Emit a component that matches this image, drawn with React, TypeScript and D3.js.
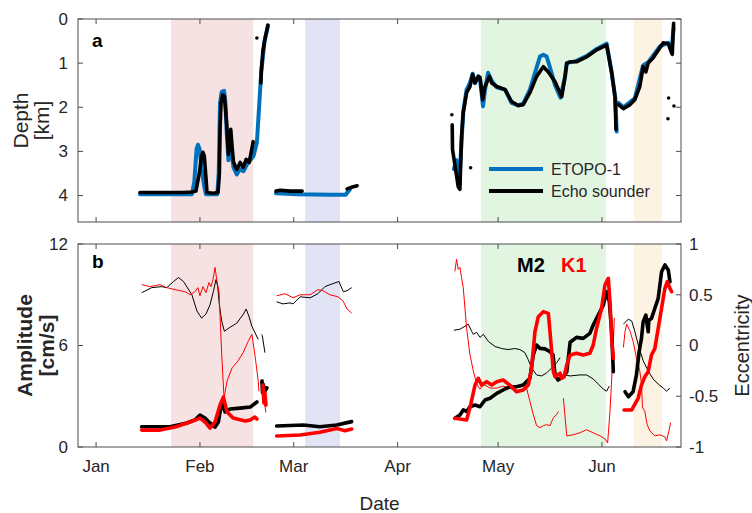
import React from "react";
import * as d3 from "d3";

type Pt = [number, number];

// days since Jan 1
const monthLabels = ["Jan", "Feb", "Mar", "Apr", "May", "Jun"];
const monthStarts = [0, 31, 59, 90, 120, 151];
const depthTicks = [0, 1, 2, 3, 4];
const ampTicks = [0, 6, 12];
const eccTicks = [-1, -0.5, 0, 0.5, 1];
const eccTickLabels = ["-1", "-0.5", "0", "0.5", "1"];

const shadeStart = [22.4, 62.4, 114.9, 160.5];
const shadeEnd = [46.9, 72.8, 152.2, 168.9];
const shadeColors = ["#f6e2e2", "#e3e3f6", "#e1f5e1", "#fdf3e4"];

// Panel a: depth (km)
const etopoDepth: Pt[][] = [
  [[13.1,3.97],[28.6,3.97],[29.3,3.7],[30.0,2.95],[30.4,2.85],[30.9,2.95],[31.5,3.4],[32.3,3.8],[32.8,3.97],[36.2,3.97],[36.6,3.5],[37.0,1.9],[37.5,1.65],[38.2,1.63],[38.6,1.9],[39.0,2.6],[39.5,3.2],[40.0,3.0],[40.3,2.9],[41.0,3.36],[42.0,3.52],[43.0,3.4],[44.0,3.45],[45.0,3.3],[46.0,3.2],[47.0,3.1],[48.0,2.8],[49.3,1.2],[50.3,0.5],[51.3,0.15]],
  [[53.7,3.95],[60,3.97],[70,3.98],[74.5,3.98],[75.8,3.86]],
  [[106.8,3.4],[107.6,3.2],[108.4,3.7],[109.0,2.9],[109.6,2.1],[110.6,1.6],[111.6,1.45],[112.4,1.24],[113.1,1.45],[114.1,1.3],[114.6,1.35],[115.5,1.98],[116.1,1.6],[117.0,1.22],[118.1,1.4],[119.6,1.55],[122.1,1.6],[124.0,1.9],[126.0,1.96],[127.5,1.92],[129.5,1.6],[131.5,1.1],[132.5,0.85],[133.5,0.81],[134.5,0.85],[135.5,1.1],[137.0,1.5],[138.6,1.78],[140.0,1.3],[140.5,1.0],[143.4,0.95],[146.4,0.84],[149.4,0.68],[152.4,0.56],[153.9,1.2],[155.0,1.8],[155.4,2.55]],
  [[155.9,1.9],[157.4,2.0],[160.8,1.8],[163.3,1.05],[164.8,0.98],[168.3,0.62],[170.8,0.54],[171.8,0.7],[172.4,0.2]],
];
const echoDepth: Pt[][] = [
  [[13.1,3.93],[20,3.93],[26,3.93],[28.6,3.92],[29.8,3.9],[30.8,3.5],[31.5,3.1],[31.9,3.02],[32.3,3.1],[32.8,3.6],[33.1,3.93],[35,3.95],[36.4,3.93],[36.8,3.5],[37.0,2.5],[37.3,1.9],[37.8,1.72],[38.3,1.75],[38.6,2.0],[39.0,2.4],[39.5,3.07],[40.0,2.8],[40.2,2.5],[40.5,2.8],[41.0,3.23],[41.6,3.35],[42.0,3.41],[43.0,3.25],[43.9,3.36],[44.8,3.18],[45.7,3.25],[46.6,2.9],[46.9,2.78]],
  [[49.2,1.45],[49.3,1.2],[49.5,1.0],[49.8,0.72],[50.4,0.45],[51.0,0.25],[51.3,0.14]],
  [[53.7,3.9],[55,3.88],[58,3.9],[61.5,3.9]],
  [[74.9,3.85],[76,3.82],[77.9,3.78]],
  [[106.3,2.4],[106.4,2.96],[107.0,3.25],[107.7,3.6],[108.1,3.8],[108.6,3.86],[109.1,2.66],[109.6,2.12],[110.6,1.67],[111.6,1.53],[112.4,1.26],[113.1,1.45],[114.1,1.3],[114.6,1.32],[115.4,1.83],[116.1,1.53],[117.4,1.3],[118.1,1.45],[119.6,1.53],[122.1,1.6],[124.0,1.87],[126.0,1.96],[127.5,1.94],[129.5,1.67],[131.5,1.3],[133.5,1.08],[135.0,1.2],[137.0,1.42],[139.0,1.76],[140.0,1.3],[140.5,1.0],[141.5,0.97],[143.4,0.97],[146.4,0.86],[149.4,0.7],[152.4,0.59],[153.9,1.22],[154.9,1.76],[155.2,2.5]],
  [[155.9,1.94],[157.4,2.03],[159.4,1.94],[160.8,1.83],[162.3,1.53],[163.3,1.08],[164.1,1.2],[164.8,1.0],[166.3,0.88],[168.3,0.65],[169.3,0.54],[170.8,0.56],[171.8,0.77],[172.0,0.8],[172.2,0.4],[172.4,0.1]],
];
const echoDots: Pt[] = [[48.0,0.43],[106.2,2.17],[111.8,3.37],[170.9,1.79],[172.5,1.97],[170.7,2.26]];

// Panel b: amplitudes (cm/s), thick lines
const m2Amp: Pt[][] = [
  [[13.6,1.2],[22.1,1.2],[27.1,1.42],[29.5,1.6],[31.0,1.89],[32.5,1.71],[34.0,1.42],[35.5,1.18],[36.5,1.48],[37.5,2.66],[38.5,2.07],[40.0,2.25],[43.0,2.3],[46.0,2.36],[48.0,2.66]],
  [[49.5,3.9],[49.7,3.2],[49.9,3.7],[50.4,3.3],[51.0,3.5]],
  [[53.9,1.24],[61.9,1.3],[66.8,1.2],[71.8,1.3],[76.3,1.5]],
  [[107.1,1.7],[108.6,1.89],[109.6,2.19],[110.6,2.1],[111.6,2.38],[113.1,2.48],[114.6,2.38],[116.1,2.78],[117.6,2.88],[119.6,3.17],[121.5,3.37],[123.5,3.56],[125.5,3.56],[127.5,3.66],[129.5,4.06],[130.5,5.44],[131.5,6.03],[132.5,5.83],[134.0,5.8],[135.5,5.63],[136.4,5.44],[137.0,4.26],[137.9,3.96],[139.5,4.15],[140.5,4.45],[141.5,6.19],[143.4,6.48],[145.4,6.42],[147.4,6.72],[148.4,7.21],[149.9,7.8],[151.4,8.39],[152.4,9.18],[153.2,8.6],[153.9,6.81],[154.4,4.45]],
  [[157.9,3.27],[158.9,2.97],[160.3,3.27],[161.3,4.26],[162.1,5.63],[162.8,6.42],[163.3,7.4],[164.1,7.8],[164.8,6.81],[165.0,7.5],[165.8,7.6],[166.8,8.2],[167.8,8.79],[168.3,9.57],[168.8,10.36],[169.8,10.76],[170.8,10.46],[171.3,9.77]],
];
const k1Amp: Pt[][] = [
  [[13.6,1.0],[19.1,1.0],[23.6,1.18],[28.1,1.48],[31.0,1.71],[32.5,1.48],[34.0,1.12],[35.5,1.48],[37.0,2.48],[38.0,2.95],[39.1,2.07],[40.9,1.71],[44.5,1.54],[46.0,1.6],[47.4,1.77],[48.0,1.65]],
  [[49.8,3.66],[50.1,2.6],[50.4,3.2],[50.7,2.48]],
  [[53.9,0.65],[60.9,0.71],[66.8,0.87],[71.8,1.1],[74.3,0.96],[76.3,1.06]],
  [[107.1,1.7],[110.6,1.6],[111.8,2.48],[113.1,3.66],[114.1,4.06],[115.1,3.66],[116.6,3.86],[118.1,3.66],[119.6,3.86],[121.5,3.96],[123.5,3.66],[125.5,3.27],[127.5,3.37],[129.0,3.66],[130.0,4.65],[131.0,6.81],[132.0,7.7],[133.5,8.0],[135.0,7.9],[135.5,6.81],[136.5,4.45],[137.0,4.15],[138.5,4.36],[139.0,4.06],[139.7,4.15],[140.5,4.85],[141.5,5.44],[143.4,5.54],[145.4,5.44],[147.4,5.54],[148.4,6.03],[149.4,7.02],[150.9,8.2],[151.9,9.57],[152.9,9.97],[153.4,8.59],[153.9,6.42],[154.4,5.24]],
  [[157.6,2.19],[159.9,2.19],[161.8,2.88],[162.8,3.66],[163.8,4.15],[164.8,4.45],[165.8,5.44],[166.8,5.83],[167.8,7.02],[168.8,8.2],[169.8,9.38],[170.5,9.77],[171.3,9.38],[171.8,9.18]],
];

// Panel b: eccentricity, thin lines
const m2Ecc: Pt[][] = [
  [[13.6,0.52],[16.6,0.57],[19.6,0.58],[21.1,0.57],[23.1,0.63],[24.6,0.67],[26.1,0.63],[28.6,0.5],[30.1,0.34],[31.5,0.27],[32.8,0.31],[34.0,0.4],[35.0,0.53],[35.8,0.65],[36.3,0.58],[36.8,0.4],[37.5,0.24],[38.3,0.14],[40.0,0.18],[42.0,0.22],[44.0,0.31],[44.8,0.36],[45.6,0.29],[46.5,0.19],[48.4,0.06]],
  [[49.4,0.11],[49.6,0.1],[50.4,-0.07]],
  [[53.9,0.43],[55.8,0.41],[57.9,0.42],[58.8,0.41],[60.9,0.48],[63.9,0.47],[66.2,0.51],[68.3,0.58],[70.7,0.61],[72.5,0.63],[73.8,0.53],[74.9,0.54],[76.3,0.57]],
  [[106.8,0.15],[108.6,0.16],[110.1,0.19],[111.1,0.21],[112.1,0.14],[112.6,0.11],[113.6,0.13],[114.6,0.08],[115.6,0.11],[117.1,0.04],[119.1,-0.01],[121.1,-0.03],[123.0,-0.04],[125.0,-0.03],[126.5,-0.04],[128.0,-0.07],[129.0,-0.14],[130.0,-0.22],[131.5,-0.29],[133.0,-0.3],[134.5,-0.27],[136.0,-0.22],[137.5,-0.17],[138.5,-0.12]],
  [[140.0,-0.29],[141.5,-0.3],[144.4,-0.29],[146.4,-0.29],[148.4,-0.33],[149.9,-0.38],[151.4,-0.43],[152.4,-0.45],[153.2,-0.4]],
  [[157.4,0.21],[158.9,0.26],[159.9,0.24],[160.8,0.14],[161.8,0.01],[163.3,-0.15],[164.8,-0.25],[166.3,-0.33],[167.8,-0.38],[169.3,-0.42],[170.3,-0.45],[171.3,-0.42]],
];
const k1Ecc: Pt[][] = [
  [[13.6,0.6],[16.1,0.58],[19.1,0.6],[21.1,0.57],[23.6,0.55],[26.6,0.53],[28.1,0.5],[29.5,0.53],[30.4,0.57],[31.0,0.49],[31.9,0.58],[32.8,0.52],[33.7,0.62],[34.3,0.58],[34.9,0.65],[35.5,0.77],[36.1,0.63],[36.7,0.53],[37.5,-0.09],[38.2,-0.52],[39.1,-0.35],[40.6,-0.22],[42.4,-0.15],[43.9,-0.07],[45.4,0.04],[46.5,0.11],[47.4,-0.09],[48.4,-0.35],[48.6,-0.45]],
  [[49.8,-0.33],[50.1,-0.5],[50.4,-0.6],[50.7,-0.66]],
  [[53.9,0.49],[56.4,0.51],[58.8,0.47],[60.9,0.5],[63.9,0.5],[66.2,0.55],[67.7,0.54],[69.8,0.5],[72.2,0.48],[73.7,0.44],[74.9,0.36],[76.3,0.32]],
  [[107.1,0.73],[107.6,0.85],[108.1,0.75],[108.6,0.77],[109.1,0.67],[109.6,0.57],[110.6,0.17],[111.6,-0.09],[112.6,-0.25],[113.6,-0.38],[114.6,-0.43],[115.6,-0.38],[117.6,-0.42],[119.6,-0.42],[121.5,-0.4],[123.5,-0.42],[125.5,-0.45],[127.5,-0.45],[128.5,-0.42],[129.5,-0.55],[130.5,-0.68],[131.5,-0.79],[132.5,-0.81],[133.5,-0.79],[134.5,-0.78],[135.5,-0.79],[136.5,-0.71],[137.5,-0.68],[138.0,-0.65]],
  [[139.5,-0.52],[140.5,-0.89],[142.4,-0.88],[144.4,-0.86],[146.4,-0.83],[148.4,-0.86],[150.4,-0.89],[151.9,-0.92],[152.7,-0.96],[153.4,-0.65],[154.2,-0.15],[154.7,0.27]],
  [[157.4,-0.02],[157.9,0.14],[158.4,0.21],[159.4,0.14],[160.3,0.04],[161.3,-0.12],[162.3,-0.25],[162.8,-0.38],[163.1,-0.61],[163.8,-0.65],[164.5,-0.78],[165.3,-0.84],[166.8,-0.89],[168.3,-0.88],[169.8,-0.9],[170.3,-0.94],[171.0,-0.84],[171.5,-0.76]],
];

const FONT = "'Liberation Sans', Arial, Helvetica, sans-serif";
const AXIS = "#4d4d4d";
const TXT = "#262626";
const BLUE = "#0072bd";
const RED = "#ff0000";

export default function App() {
  const W = 752, H = 513;
  const L = 78, R = 681;
  const aTop = 19, aBot = 222, bTop = 244, bBot = 447;
  const x = d3.scaleLinear().domain([-5.4, 174.6]).range([L, R]);
  const yD = d3.scaleLinear().domain([0, 4.6]).range([aTop, aBot]);
  const yA = d3.scaleLinear().domain([0, 12]).range([bBot, bTop]);
  const yE = d3.scaleLinear().domain([-1, 1]).range([bBot, bTop]);

  const lineD = d3.line<Pt>().x(d => x(d[0])).y(d => yD(d[1]));
  const lineA = d3.line<Pt>().x(d => x(d[0])).y(d => yA(d[1]));
  const lineE = d3.line<Pt>().x(d => x(d[0])).y(d => yE(d[1]));

  const tk = 5;

  const shades = (top: number, bot: number) =>
    shadeStart.map((s, i) => (
      <rect key={i} x={x(s)} y={top} width={x(shadeEnd[i]) - x(s)} height={bot - top} fill={shadeColors[i]} />
    ));

  const xTicks = (top: number, bot: number) =>
    monthStarts.map((m, i) => (
      <g key={i}>
        <line x1={x(m)} x2={x(m)} y1={bot} y2={bot - tk} stroke={AXIS} strokeWidth={1} />
        <line x1={x(m)} x2={x(m)} y1={top} y2={top + tk} stroke={AXIS} strokeWidth={1} />
      </g>
    ));

  return (
    <svg width={W} height={H} viewBox={`0 0 ${W} ${H}`} style={{ position: "absolute", left: 0, top: 0, background: "#fff" }} fontFamily={FONT}>
      <rect x={0} y={0} width={W} height={H} fill="#fff" />
      {/* Panel a */}
      {shades(aTop, aBot)}
      {etopoDepth.map((s, i) => (
        <path key={"e" + i} d={lineD(s) || ""} fill="none" stroke={BLUE} strokeWidth={4} strokeLinejoin="round" strokeLinecap="round" />
      ))}
      {echoDepth.map((s, i) => (
        <path key={"k" + i} d={lineD(s) || ""} fill="none" stroke="#000" strokeWidth={3.6} strokeLinejoin="round" strokeLinecap="round" />
      ))}
      {echoDots.map((d, i) => (
        <circle key={"d" + i} cx={x(d[0])} cy={yD(d[1])} r={1.8} fill="#000" />
      ))}
      <rect x={L} y={aTop} width={R - L} height={aBot - aTop} fill="none" stroke={AXIS} strokeWidth={1} />
      {xTicks(aTop, aBot)}
      {depthTicks.map(t => (
        <g key={"dt" + t}>
          <line x1={L} x2={L + tk} y1={yD(t)} y2={yD(t)} stroke={AXIS} />
          <line x1={R} x2={R - tk} y1={yD(t)} y2={yD(t)} stroke={AXIS} />
          <text x={L - 10} y={yD(t)} dy="0.35em" textAnchor="end" fontSize={17} fill={TXT}>{t}</text>
        </g>
      ))}
      <text x={92} y={47} fontSize={19} fontWeight="bold" fill="#000">a</text>
      <text transform={`translate(28,${yD(2.3)}) rotate(-90)`} textAnchor="middle" fontSize={21} fill={TXT}>Depth</text>
      <text transform={`translate(49,${yD(2.3)}) rotate(-90)`} textAnchor="middle" fontSize={21} fill={TXT}>[km]</text>
      {/* legend */}
      <line x1={489} x2={543} y1={169} y2={169} stroke={BLUE} strokeWidth={4} />
      <text x={551} y={169} dy="0.35em" fontSize={16} fill={TXT}>ETOPO-1</text>
      <line x1={489} x2={543} y1={191} y2={191} stroke="#000" strokeWidth={4} />
      <text x={551} y={191} dy="0.35em" fontSize={16} fill={TXT}>Echo sounder</text>

      {/* Panel b */}
      {shades(bTop, bBot)}
      {m2Ecc.map((s, i) => (
        <path key={"me" + i} d={lineE(s) || ""} fill="none" stroke="#000" strokeWidth={1} strokeLinejoin="round" />
      ))}
      {k1Ecc.map((s, i) => (
        <path key={"ke" + i} d={lineE(s) || ""} fill="none" stroke={RED} strokeWidth={1} strokeLinejoin="round" />
      ))}
      {m2Amp.map((s, i) => (
        <path key={"ma" + i} d={lineA(s) || ""} fill="none" stroke="#000" strokeWidth={3.6} strokeLinejoin="round" strokeLinecap="round" />
      ))}
      {k1Amp.map((s, i) => (
        <path key={"ka" + i} d={lineA(s) || ""} fill="none" stroke={RED} strokeWidth={3.6} strokeLinejoin="round" strokeLinecap="round" />
      ))}
      <rect x={L} y={bTop} width={R - L} height={bBot - bTop} fill="none" stroke={AXIS} strokeWidth={1} />
      {xTicks(bTop, bBot)}
      {ampTicks.map(t => (
        <g key={"at" + t}>
          <line x1={L} x2={L + tk} y1={yA(t)} y2={yA(t)} stroke={AXIS} />
          <text x={L - 10} y={yA(t)} dy="0.35em" textAnchor="end" fontSize={17} fill={TXT}>{t}</text>
        </g>
      ))}
      {eccTicks.map((t, i) => (
        <g key={"et" + i}>
          <line x1={R} x2={R - tk} y1={yE(t)} y2={yE(t)} stroke={AXIS} />
          <text x={R + 8} y={yE(t)} dy="0.35em" textAnchor="start" fontSize={17} fill={TXT}>{eccTickLabels[i]}</text>
        </g>
      ))}
      {monthStarts.map((m, i) => (
        <text key={"ml" + i} x={x(m)} y={472} textAnchor="middle" fontSize={17} fill={TXT}>{monthLabels[i]}</text>
      ))}
      <text x={92} y={268} fontSize={19} fontWeight="bold" fill="#000">b</text>
      <text x={517} y={272} fontSize={20} fontWeight="bold" fill="#000">M2</text>
      <text x={561} y={272} fontSize={20} fontWeight="bold" fill={RED}>K1</text>
      <text transform={`translate(32,${yA(6)}) rotate(-90)`} textAnchor="middle" fontSize={21} fontWeight="bold" fill={TXT}>Amplitude</text>
      <text transform={`translate(54,${yA(6)}) rotate(-90)`} textAnchor="middle" fontSize={21} fontWeight="bold" fill={TXT}>[cm/s]</text>
      <text transform={`translate(749,${yE(0)}) rotate(-90)`} textAnchor="middle" fontSize={20} fill={TXT}>Eccentricity</text>
      <text x={(L + R) / 2} y={510} textAnchor="middle" fontSize={19} fill={TXT}>Date</text>
    </svg>
  );
}
